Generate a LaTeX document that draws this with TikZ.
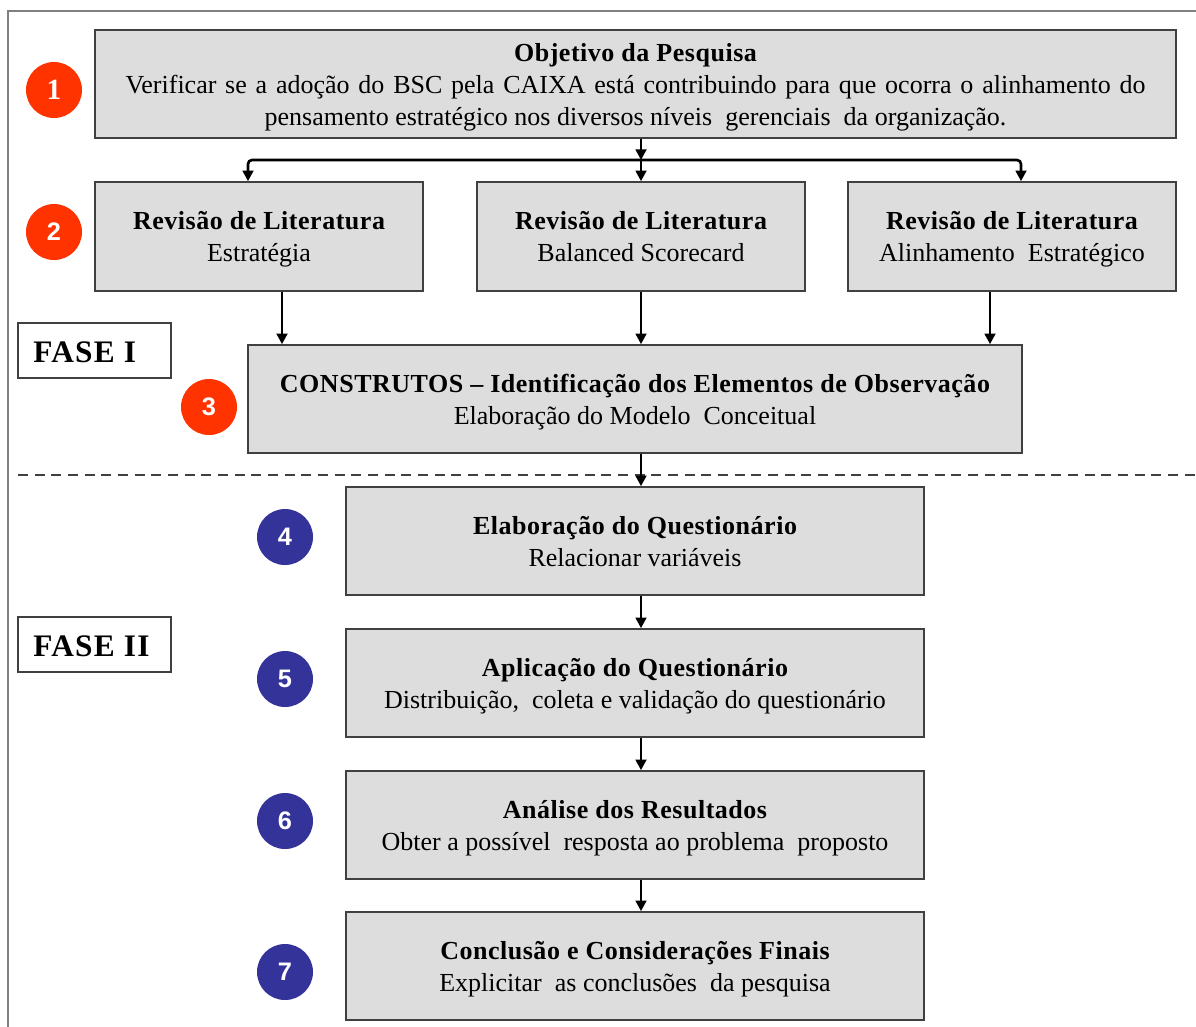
\documentclass[tikz,border=0pt]{standalone}
\usepackage{fontspec}
\setmainfont{Liberation Serif}
\newfontfamily\numfont{Liberation Sans}
\usetikzlibrary{arrows.meta}
\definecolor{boxfill}{HTML}{DDDDDD}
\definecolor{boxline}{HTML}{404040}
\definecolor{redc}{HTML}{FF3300}
\definecolor{bluec}{HTML}{333399}
\definecolor{framec}{HTML}{808080}
\newcommand\tb[1]{{\bfseries\addfontfeature{LetterSpace=2}#1}}
\newcommand\topstrut{\rule{0pt}{21pt}}
\tikzset{
  box/.style={draw=boxline, line width=1.2pt, fill=boxfill, rectangle, align=center,
    inner sep=0pt, font=\fontsize{19.5}{24}\selectfont},
  widebox/.style={box, minimum width=246pt, minimum height=81.75pt},
  stepbox/.style={box, minimum width=433.5pt, minimum height=81pt},
  fasebox/.style={draw=boxline, line width=1.2pt, fill=white, rectangle,
    minimum width=114.75pt, minimum height=41.25pt, inner sep=0pt},
  fasetxt/.style={anchor=west, inner sep=0pt,
    font=\fontsize{23.5}{24}\selectfont\bfseries\addfontfeature{LetterSpace=4}},
  redcirc/.style={circle, fill=redc, minimum size=42pt, inner sep=0pt, text=white,
    font=\numfont\bfseries\fontsize{19}{20}\selectfont},
  bluecirc/.style={circle, fill=bluec, minimum size=42pt, inner sep=0pt, text=white,
    font=\numfont\bfseries\fontsize{19}{20}\selectfont},
  arr/.style={line width=2pt, -{Triangle[length=8pt,width=8pt]}},
}
\begin{document}
\begin{tikzpicture}[x=0.75pt,y=-0.75pt]
\useasboundingbox (0,0) rectangle (1196,1026);
% outer frame (clipped at right and bottom)
\draw[framec, line width=2pt] (8,1030) -- (8,11) -- (1200,11);
% top box
\node[box, minimum width=810.75pt, minimum height=81pt] (top) at (635.5,84)
  {\topstrut\tb{Objetivo da Pesquisa}\\
   \strut\makebox[765pt][s]{Verificar se a adoção do BSC pela CAIXA está contribuindo para que ocorra o alinhamento do}\\
   \strut pensamento estratégico nos diversos níveis \ gerenciais \ da organização.};
\node[redcirc] (c1) at (54,90) {\fontspec{Liberation Serif}\bfseries\fontsize{22}{22}\selectfont 1};
% second row
\node[widebox] (ra) at (259,236.5) {\topstrut\tb{Revisão de Literatura}\\\strut Estratégia};
\node[widebox] (rb) at (641,236.5) {\topstrut\tb{Revisão de Literatura}\\\strut Balanced Scorecard};
\node[widebox] (rc) at (1012,236.5) {\topstrut\tb{Revisão de Literatura}\\\strut Alinhamento \ Estratégico};
\node[redcirc] (c2) at (54,232) {2};
% fase I
\node[fasebox] (f1) at (94.5,350.5) {};
\node[fasetxt] (f1t) at (33,352) {FASE I};
% construtos
\node[box, minimum width=580.5pt, minimum height=81pt] (b3) at (635,399)
  {\topstrut\tb{CONSTRUTOS – Identificação dos Elementos de Observação}\\\strut Elaboração do Modelo \ Conceitual};
\node[redcirc] (c3) at (209,407) {3};
% dashed separator
\coordinate (dl) at (18,475);
\coordinate (dr) at (1196,475);
\draw[boxline, line width=2.2pt, dash pattern=on 7.5pt off 5pt] (dl) -- (dr);
% fase II
\node[fasebox] (f2) at (94.5,644.5) {};
\node[fasetxt] (f2t) at (33,646) {FASE II};
% steps
\node[stepbox] (b4) at (635,541) {\topstrut\tb{Elaboração do Questionário}\\\strut Relacionar variáveis};
\node[stepbox] (b5) at (635,683) {\topstrut\tb{Aplicação do Questionário}\\\strut Distribuição, \ coleta e validação do questionário};
\node[stepbox] (b6) at (635,825) {\topstrut\tb{Análise dos Resultados}\\\strut Obter a possível \ resposta ao problema \ proposto};
\node[stepbox] (b7) at (635,966) {\topstrut\tb{Conclusão e Considerações Finais}\\\strut Explicitar \ as conclusões \ da pesquisa};
\node[bluecirc] (c4) at (285,537) {4};
\node[bluecirc] (c5) at (285,679) {5};
\node[bluecirc] (c6) at (285,821) {6};
\node[bluecirc] (c7) at (285,972) {7};
% connectors
\coordinate (j) at (641,160);
\draw[arr] (top.south -| j) -- (j);
\draw[arr] (j) -- (rb.north -| j);
\draw[arr, rounded corners=3pt] (j) -- (248,160) -- (ra.north -| 248,0);
\draw[arr, rounded corners=3pt] (j) -- (1021,160) -- (rc.north -| 1021,0);
\draw[arr] (ra.south -| 282,0) -- (b3.north -| 282,0);
\draw[arr] (rb.south -| j) -- (b3.north -| j);
\draw[arr] (rc.south -| 990,0) -- (b3.north -| 990,0);
\draw[arr] (b3.south -| j) -- (b4.north -| j);
\draw[arr] (b4.south -| j) -- (b5.north -| j);
\draw[arr] (b5.south -| j) -- (b6.north -| j);
\draw[arr] (b6.south -| j) -- (b7.north -| j);
\end{tikzpicture}
\end{document}
